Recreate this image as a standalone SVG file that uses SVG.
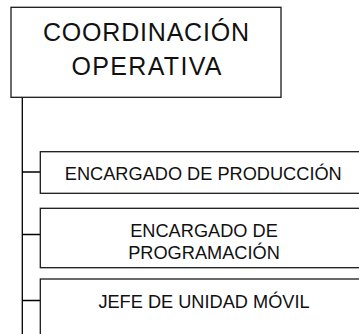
<svg xmlns="http://www.w3.org/2000/svg" width="359" height="334" viewBox="0 0 359 334">
<style>
.box{fill:#fff;stroke:#1a1a1a;stroke-width:1.3}
.con{fill:none;stroke:#000;stroke-width:1.3}
.t{font-family:"Liberation Sans",Arial,sans-serif;fill:#111;text-anchor:middle}
.big{font-size:25px}
.sm{font-size:18.2px}
</style>
<rect width="359" height="334" fill="#fff"/>
<g id="connectors">
<path class="con" d="M22.3 97.5V334M22.3 172H40M22.3 234.5H40M22.3 300.5H40"/>
</g>
<g id="coordinacion">
<rect class="box" x="11" y="7.3" width="270" height="90"/>
<text class="t big" x="146" y="40.5" textLength="206">COORDINACIÓN</text>
<text class="t big" x="146.5" y="75" textLength="150">OPERATIVA</text>
</g>
<g id="produccion">
<rect class="box" x="40.3" y="151.7" width="330" height="41.6"/>
<text class="t sm" x="203.3" y="180.3">ENCARGADO DE PRODUCCIÓN</text>
</g>
<g id="programacion">
<rect class="box" x="40.3" y="208.3" width="330" height="59.4"/>
<text class="t sm" x="204" y="236.7">ENCARGADO DE</text>
<text class="t sm" x="204" y="259">PROGRAMACIÓN</text>
</g>
<g id="movil">
<rect class="box" x="40.3" y="279" width="330" height="80"/>
<text class="t sm" x="204" y="308.3">JEFE DE UNIDAD MÓVIL</text>
</g>
</svg>
